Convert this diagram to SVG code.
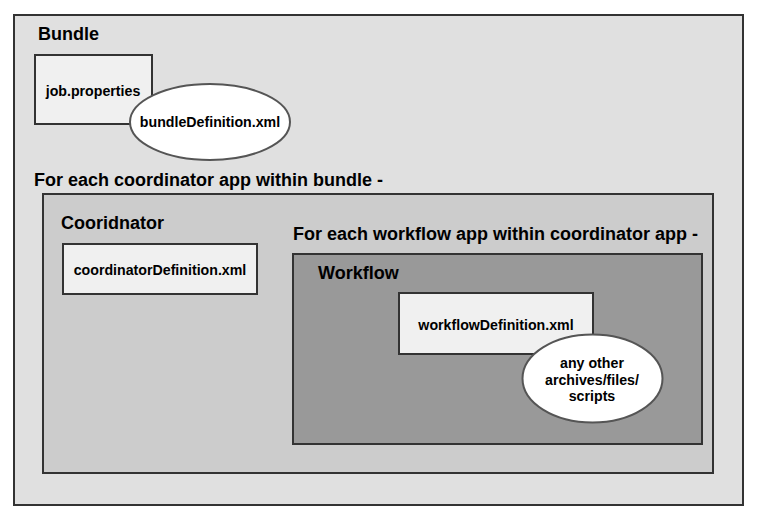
<svg xmlns="http://www.w3.org/2000/svg" width="763" height="525" viewBox="0 0 763 525">
<style>
text{font-family:"Liberation Sans",Arial,sans-serif;font-weight:bold;fill:#000}
.h{font-size:18px}
.s{font-size:14.2px;text-anchor:middle}
.box{stroke:#333;stroke-width:2}
.file{fill:#f0f0f0;stroke:#333;stroke-width:2}
.ell{fill:#fff;stroke:#555;stroke-width:2}
</style>
<rect width="763" height="525" fill="#fff"/>
<g id="bundle">
<rect class="box" x="14" y="15" width="729" height="490" fill="#e0e0e0"/>
<text class="h" x="38" y="40">Bundle</text>
</g>
<g id="job-properties">
<rect class="file" x="35" y="55" width="117" height="69"/>
<text class="s" x="93" y="96">job.properties</text>
</g>
<g id="bundle-definition">
<ellipse class="ell" cx="210" cy="122" rx="80" ry="38"/>
<text class="s" x="210" y="127">bundleDefinition.xml</text>
</g>
<g id="coordinator-label">
<text class="h" x="34" y="186">For each coordinator app within bundle -</text>
</g>
<g id="coordinator">
<rect class="box" x="43" y="194" width="670" height="279" fill="#cccccc"/>
<text class="h" x="61" y="229">Cooridnator</text>
</g>
<g id="coordinator-definition">
<rect class="file" x="63" y="244" width="194" height="50"/>
<text class="s" x="160" y="275">coordinatorDefinition.xml</text>
</g>
<g id="workflow-label">
<text class="h" x="293" y="240">For each workflow app within coordinator app -</text>
</g>
<g id="workflow">
<rect class="box" x="293" y="254" width="409" height="190" fill="#999999"/>
<text class="h" x="318" y="279">Workflow</text>
</g>
<g id="workflow-definition">
<rect class="file" x="399" y="293" width="194" height="61"/>
<text class="s" x="496" y="330">workflowDefinition.xml</text>
</g>
<g id="other-files">
<ellipse class="ell" cx="592.5" cy="378.5" rx="70" ry="44"/>
<text class="s" x="592" y="368">any other</text>
<text class="s" x="592" y="385">archives/files/</text>
<text class="s" x="592" y="401">scripts</text>
</g>
<g id="connectors"></g>
</svg>
